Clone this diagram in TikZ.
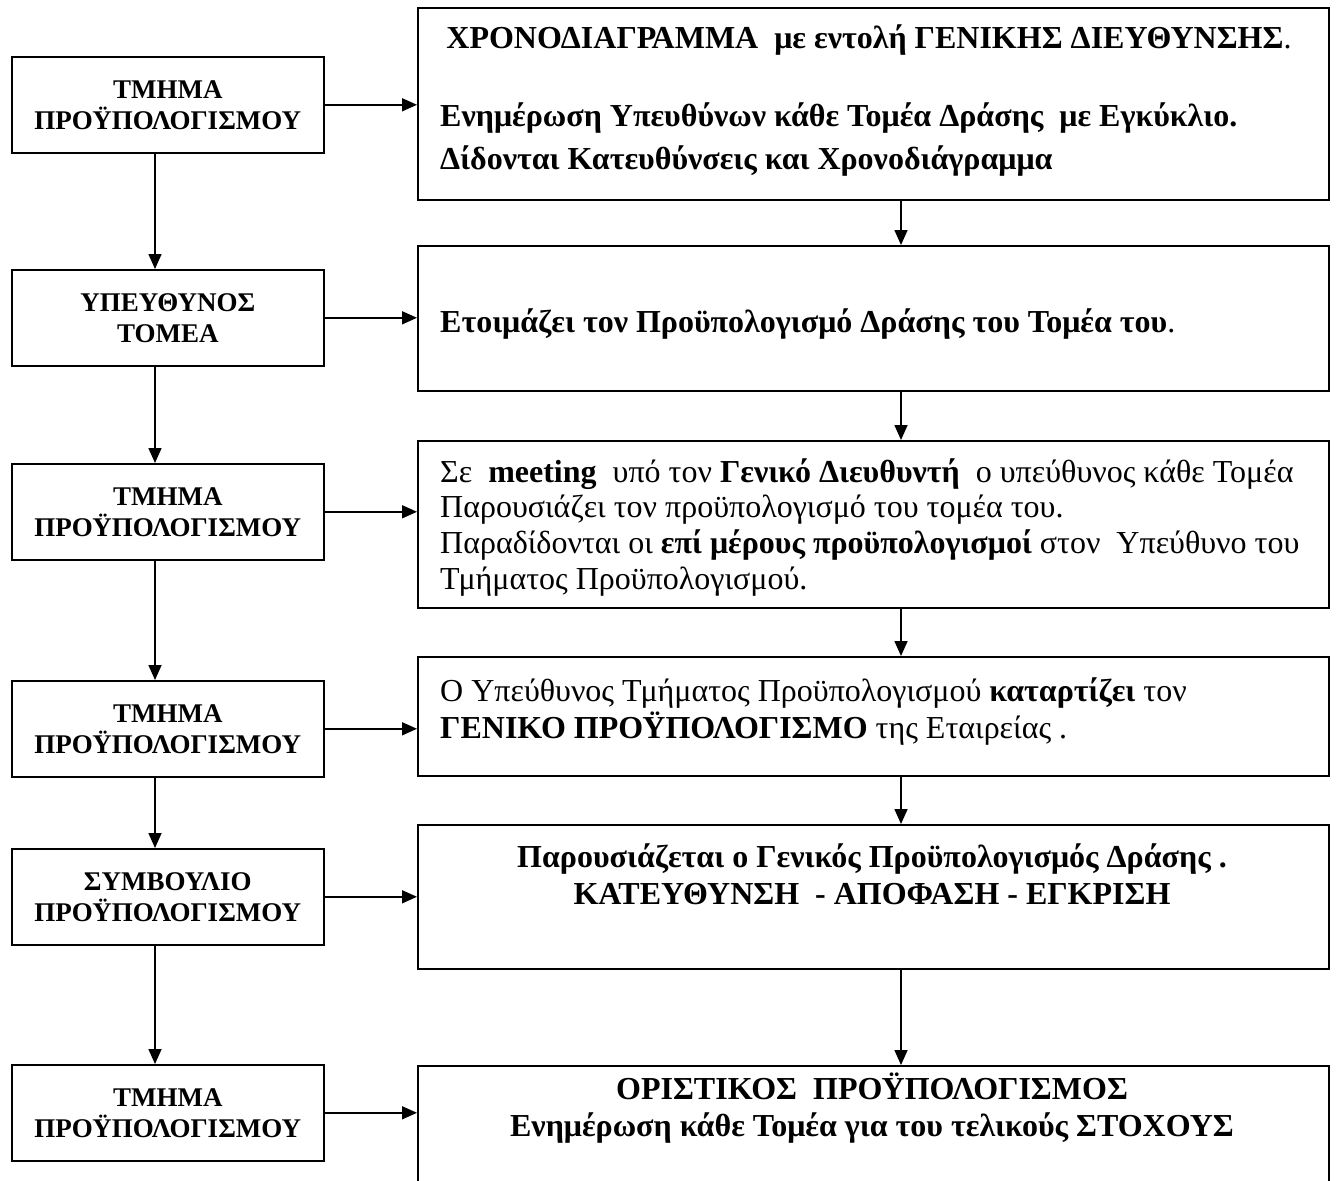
\documentclass[tikz,border=0pt]{standalone}
\usepackage{fontspec}
\setmainfont{Liberation Serif}
\usetikzlibrary{arrows.meta}
\begin{document}
\begin{tikzpicture}[x=1pt,y=-1pt,
  box/.style={draw,line width=1.6pt,inner sep=0pt},
  lbox/.style={box,minimum width=312pt,minimum height=96pt,anchor=north west,align=center,
    font=\bfseries\fontsize{27}{31}\selectfont},
  rbox/.style={box,minimum width=911pt,anchor=north west},
  rtext/.style={inner sep=0pt,font=\fontsize{32}{37}\selectfont},
  ltxt/.style={rtext,anchor=base west},
  ctxt/.style={rtext,anchor=base},
  arr/.style={line width=1.6pt,-{Triangle[length=15pt,width=13pt]}}]
\useasboundingbox (0,0) rectangle (1337,1180);
\clip (0,0) rectangle (1337,1180);
\fill[white] (0,0) rectangle (1337,1180);
\coordinate (lx) at (155,0);
\coordinate (rx) at (901,0);
% left column
\node[lbox] (l1) at (11,56) {ΤΜΗΜΑ\\ΠΡΟΫΠΟΛΟΓΙΣΜΟΥ};
\node[lbox] (l2) at (11,269) {ΥΠΕΥΘΥΝΟΣ\\ΤΟΜΕΑ};
\node[lbox] (l3) at (11,463) {ΤΜΗΜΑ\\ΠΡΟΫΠΟΛΟΓΙΣΜΟΥ};
\node[lbox] (l4) at (11,680) {ΤΜΗΜΑ\\ΠΡΟΫΠΟΛΟΓΙΣΜΟΥ};
\node[lbox] (l5) at (11,848) {ΣΥΜΒΟΥΛΙΟ\\ΠΡΟΫΠΟΛΟΓΙΣΜΟΥ};
\node[lbox] (l6) at (11,1064) {ΤΜΗΜΑ\\ΠΡΟΫΠΟΛΟΓΙΣΜΟΥ};
% right column
\node[rbox,minimum height=192pt] (r1) at (417,7) {};
\node[rbox,minimum height=145pt] (r2) at (417,245) {};
\node[rbox,minimum height=167pt] (r3) at (417,440) {};
\node[rbox,minimum height=119pt] (r4) at (417,656) {};
\node[rbox,minimum height=144pt] (r5) at (417,824) {};
\node[rbox,minimum height=200pt] (r6) at (417,1065) {};
% texts
\node[ctxt] (t1a) at (869,49) {\textbf{ΧΡΟΝΟΔΙΑΓΡΑΜΜΑ\ \ με εντολή ΓΕΝΙΚΗΣ ΔΙΕΥΘΥΝΣΗΣ}.};
\node[ltxt] (t1b) at (440,127) {\textbf{Ενημέρωση Υπευθύνων κάθε Τομέα Δράσης\ \ με Εγκύκλιο.}};
\node[ltxt] (t1c) at (440,169) {\textbf{Δίδονται Κατευθύνσεις και Χρονοδιάγραμμα}};
\node[ltxt] (t2a) at (440,332) {\textbf{Ετοιμάζει τον Προϋπολογισμό Δράσης του Τομέα του}.};
\node[ltxt] (t3a) at (440,482) {Σε\ \ \textbf{meeting}\ \ υπό τον \textbf{Γενικό Διευθυντή}\ \ ο υπεύθυνος κάθε Τομέα};
\node[ltxt] (t3b) at (440,517) {Παρουσιάζει τον προϋπολογισμό του τομέα του.};
\node[ltxt] (t3c) at (440,553) {Παραδίδονται οι \textbf{επί μέρους προϋπολογισμοί} στον\ \ Υπεύθυνο του};
\node[ltxt] (t3d) at (440,589) {Τμήματος Προϋπολογισμού.};
\node[ltxt] (t4a) at (440,701) {Ο Υπεύθυνος Τμήματος Προϋπολογισμού \textbf{καταρτίζει} τον};
\node[ltxt] (t4b) at (440,738) {\textbf{ΓΕΝΙΚΟ ΠΡΟΫΠΟΛΟΓΙΣΜΟ} της Εταιρείας .};
\node[ctxt] (t5a) at (872,867) {\textbf{Παρουσιάζεται ο Γενικός Προϋπολογισμός Δράσης .}};
\node[ctxt] (t5b) at (872,904) {\textbf{ΚΑΤΕΥΘΥΝΣΗ\ \ - ΑΠΟΦΑΣΗ - ΕΓΚΡΙΣΗ}};
\node[ctxt] (t6a) at (872,1099) {\textbf{ΟΡΙΣΤΙΚΟΣ\ \ ΠΡΟΫΠΟΛΟΓΙΣΜΟΣ}};
\node[ctxt] (t6b) at (872,1136) {\textbf{Ενημέρωση κάθε Τομέα για του τελικούς ΣΤΟΧΟΥΣ}};
% horizontal arrows
\foreach \i in {1,...,6} {
  \draw[arr] (l\i.east) -- (l\i.east -| r\i.west);
}
% vertical arrows
\foreach \a/\b in {1/2,2/3,3/4,4/5,5/6} {
  \draw[arr] (l\a.south -| lx) -- (l\b.north -| lx);
  \draw[arr] (r\a.south -| rx) -- (r\b.north -| rx);
}
\end{tikzpicture}
\end{document}
